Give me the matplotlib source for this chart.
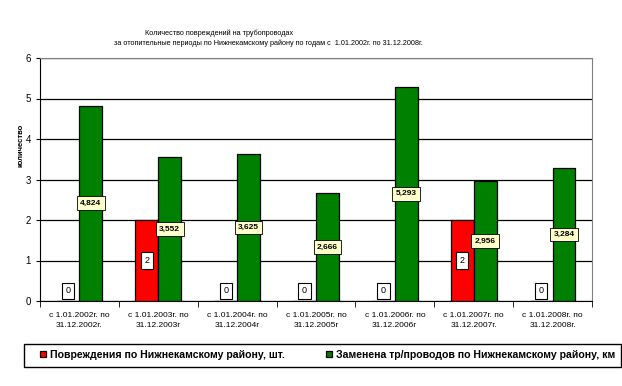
import numpy as np
import matplotlib
matplotlib.use("Agg")
import matplotlib.pyplot as plt
from matplotlib.patches import Rectangle

plt.rcParams["font.family"] = ["Liberation Sans", "DejaVu Sans"]

# data
periods = ["с 1.01.2002г. по\n31.12.2002г.", "с 1.01.2003г. по\n31.12.2003г",
           "с 1.01.2004г. по\n31.12.2004г", "с 1.01.2005г. по\n31.12.2005г",
           "с 1.01.2006г. по\n31.12.2006г", "с 1.01.2007г. по\n31.12.2007г.",
           "с 1.01.2008г. по\n31.12.2008г."]
damages = [0, 2, 0, 0, 0, 2, 0]
replaced = [4.824, 3.552, 3.625, 2.666, 5.293, 2.956, 3.284]
replaced_labels = ["4,824", "3,552", "3,625", "2,666", "5,293", "2,956", "3,284"]

fig = plt.figure(figsize=(6.22, 3.86), dpi=100)
ax = fig.add_axes([40 / 622, 1 - 301 / 386, 552 / 622, 243 / 386])

x = np.arange(len(periods))
w = 0.29
b1 = ax.bar(x - w / 2, damages, w, color="#FF0000", edgecolor="black", linewidth=0.9,
            zorder=3, label="Повреждения по Нижнекамскому району, шт.")
b2 = ax.bar(x + w / 2, replaced, w, color="#008000", edgecolor="black", linewidth=0.9,
            zorder=3, label="Заменена тр/проводов по Нижнекамскому району, км")

for xi, v in zip(x, damages):
    y = v / 2 if v else 0.25
    ax.text(xi - w / 2, y, str(v), ha="center", va="center", fontsize=6.5, zorder=5,
            bbox=dict(boxstyle="square,pad=0.4", fc="white", ec="black", lw=0.8))
for xi, v, s in zip(x, replaced, replaced_labels):
    ax.text(xi + w / 2, v / 2, s, ha="center", va="center", fontsize=6,
            fontweight="bold", zorder=5,
            bbox=dict(boxstyle="square,pad=0.4", fc="#FFFFCC", ec="black", lw=0.6))

ax.set_xlim(-0.5, len(periods) - 0.5)
ax.set_ylim(0, 6)
ax.set_yticks(range(7))
ax.yaxis.grid(True, color="black", linewidth=0.9, zorder=0)
ax.set_axisbelow(True)
ax.set_xticks(x)
ax.set_xticklabels(periods, fontsize=6, linespacing=1.6)
ax.set_xticks(np.arange(-0.5, len(periods)), minor=True)
ax.tick_params(axis="x", which="major", length=0, pad=8)
ax.tick_params(axis="x", which="minor", length=4, direction="out")
ax.tick_params(axis="y", labelsize=7, length=3, direction="out")
for s in ["top", "right"]:
    ax.spines[s].set_color("#808080")
ax.set_ylabel("количество", fontsize=5.5, fontweight="bold")
ax.yaxis.set_label_coords(-0.028, (301 - 145) / 243)

fig.text(145 / 622, 1 - 33 / 386, "Количество повреждений на трубопроводах",
         fontsize=5.2, ha="left", va="center")
fig.text(114 / 622, 1 - 43 / 386,
         "за отопительные периоды по Нижнекамскому району по годам с  1.01.2002г. по 31.12.2008г.",
         fontsize=5.2, ha="left", va="center")

# legend frame
fig.patches.append(Rectangle((24 / 622, 1 - 367 / 386), 597 / 622, 23 / 386,
                             transform=fig.transFigure, fill=False, ec="black", lw=1))
leg_font = dict(size=7.6, weight="bold")
for handle, x0 in [(b1, 40), (b2, 326)]:
    fig.legend(handles=[handle], loc="center left",
               bbox_to_anchor=(x0 / 622, 1 - 355 / 386),
               frameon=False, prop=leg_font, handlelength=0.55, handleheight=0.55,
               handletextpad=0.35, borderpad=0, borderaxespad=0)

fig.savefig("out.png", dpi=100)
